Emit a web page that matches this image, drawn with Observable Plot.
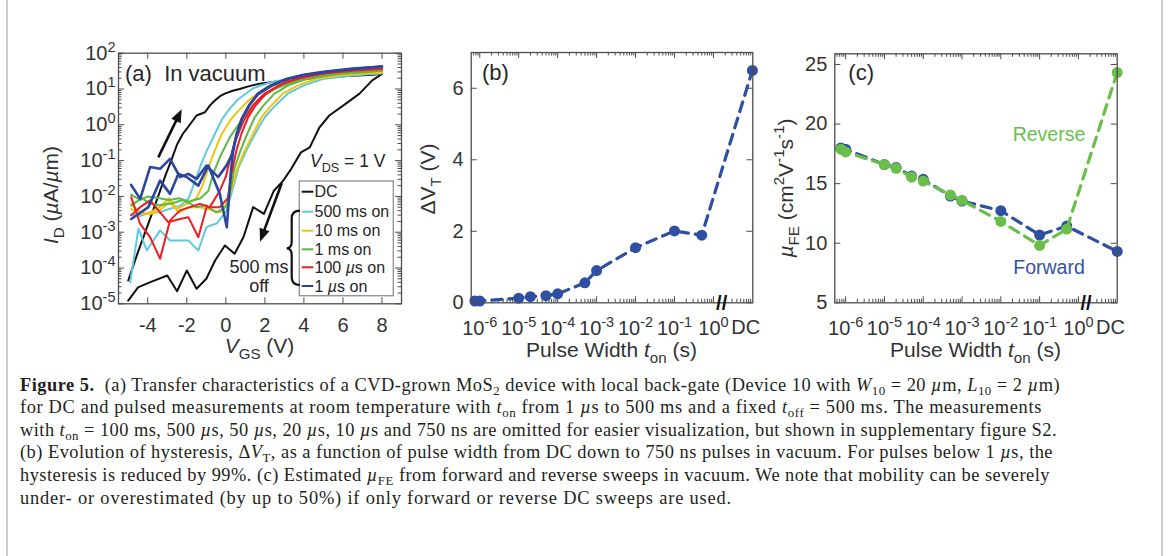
<!DOCTYPE html>
<html>
<head>
<meta charset="utf-8">
<script src="https://cdn.jsdelivr.net/npm/d3@7"></script>
<script src="https://cdn.jsdelivr.net/npm/@observablehq/plot@0.6"></script>
<style>
html,body{margin:0;padding:0;background:#fff;}
#wrap{position:relative;width:1168px;height:556px;overflow:hidden;background:#fff;}
.vbar{position:absolute;top:0;height:556px;width:2px;background:#cdcdcd;}
.panel{position:absolute;left:0;top:0;}
.panel svg{display:block;overflow:visible;}
#cap{position:absolute;left:20px;top:373.7px;font-family:"Liberation Serif","Times New Roman",Times,serif;font-size:18px;line-height:22.6px;color:#231f20;white-space:nowrap;}
#cap sub{font-size:0.7em;vertical-align:-0.28em;line-height:0;}
#cap .ln span{display:inline-block;}
</style>
</head>
<body>
<div id="wrap">
  <div class="vbar" style="left:6px"></div>
  <div class="vbar" style="left:1161px"></div>
  <div id="pa" class="panel"></div>
  <div id="pb" class="panel"></div>
  <div id="pc" class="panel"></div>
  <div id="cap">
    <div class="ln"><span><b>Figure 5.</b>&nbsp; (a) Transfer characteristics of a CVD-grown MoS<sub>2</sub> device with local back-gate (Device 10 with <i>W</i><sub>10</sub> = 20 <i>µ</i>m, <i>L</i><sub>10</sub> = 2 <i>µ</i>m)</span></div>
    <div class="ln"><span>for DC and pulsed measurements at room temperature with <i>t</i><sub>on</sub> from 1 <i>µ</i>s to 500 ms and a fixed <i>t</i><sub>off</sub> = 500 ms. The measurements</span></div>
    <div class="ln"><span>with <i>t</i><sub>on</sub> = 100 ms, 500 <i>µ</i>s, 50 <i>µ</i>s, 20 <i>µ</i>s, 10 <i>µ</i>s and 750 ns are omitted for easier visualization, but shown in supplementary figure S2.</span></div>
    <div class="ln"><span>(b) Evolution of hysteresis, Δ<i>V</i><sub>T</sub>, as a function of pulse width from DC down to 750 ns pulses in vacuum. For pulses below 1 <i>µ</i>s, the</span></div>
    <div class="ln"><span>hysteresis is reduced by 99%. (c) Estimated <i>µ</i><sub>FE</sub> from forward and reverse sweeps in vacuum. We note that mobility can be severely</span></div>
    <div class="ln"><span>under- or overestimated (by up to 50%) if only forward or reverse DC sweeps are used.</span></div>
  </div>
</div>
<script>
// ================= DATA =================
// Panel (a): each sweep as [V_GS (V), log10 I_D (µA/µm)]
const dcFwd = [[-5,-4.35],[-4.5,-3.55],[-4,-2.8],[-3.5,-2.05],[-3.1,-1.42],[-2.8,-1.0],[-2.5,-0.55],[-2.2,-0.25],[-2.0,-0.11],[-1.5,0.26],[-1.07,0.35],[-0.8,0.55],[-0.56,0.68],[-0.3,0.8],[-0.05,0.87],[0.35,0.95],[0.71,1.0],[1.2,1.08],[1.74,1.15],[2.59,1.21],[3.5,1.26],[4.5,1.3],[5.5,1.34],[6.5,1.37],[7.3,1.39],[8,1.42]];
const dcRev = [[-5,-4.91],[-4.5,-4.54],[-3.9,-4.40],[-3.0,-4.21],[-2.5,-4.65],[-2.0,-4.07],[-1.5,-4.58],[-1.0,-4.30],[-0.55,-3.79],[-0.05,-3.37],[0.45,-3.60],[0.9,-3.14],[1.4,-2.30],[1.95,-2.49],[2.45,-1.85],[2.85,-1.62],[3.0,-1.51],[3.35,-1.23],[3.85,-0.77],[4.3,-0.63],[4.8,-0.07],[5.3,0.26],[6.15,0.59],[6.85,0.87],[7.5,1.24],[8,1.42]];
const ms500Fwd = [[-4.85,-2.5],[-4.4,-2.55],[-3.9,-2.45],[-3.4,-2.45],[-2.9,-2.35],[-2.3,-2.25],[-1.9,-2.05],[-1.6,-1.6],[-1.3,-1.15],[-1.0,-0.75],[-0.6,-0.3],[-0.2,0.15],[0.2,0.45],[0.6,0.7],[1.4,1.02],[2.25,1.18],[3,1.26],[4,1.32],[5,1.36],[6,1.39],[7,1.42],[8,1.44]];
const ms500Rev = [[-4.9,-4.4],[-4.48,-2.9],[-4.05,-3.51],[-3.37,-2.95],[-2.86,-3.23],[-1.92,-3.23],[-1.41,-3.51],[-0.99,-2.86],[-0.45,-2.75],[0.03,-2.4],[0.35,-1.8],[0.65,-1.2],[1.05,-0.72],[1.5,-0.25],[1.99,0.21],[2.5,0.52],[3.17,0.87],[4.0,1.1],[4.96,1.28],[6.5,1.38],[8,1.44]];
const ms10Fwd = [[-4.85,-2.35],[-4.4,-2.5],[-3.9,-2.45],[-3.4,-2.3],[-2.9,-2.05],[-2.5,-2.35],[-2.0,-2.2],[-1.5,-2.05],[-1.2,-1.7],[-0.95,-1.3],[-0.7,-0.9],[-0.25,-0.3],[0.25,0.15],[0.75,0.45],[1.2,0.7],[1.8,0.93],[2.5,1.1],[3.3,1.22],[4.5,1.33],[6,1.41],[8,1.47]];
const ms10Rev = [[-4.85,-2.2],[-4.4,-2.45],[-3.9,-2.5],[-3.4,-2.4],[-2.9,-2.15],[-2.4,-2.45],[-1.9,-2.3],[-1.4,-2.3],[-0.9,-2.35],[-0.3,-2.45],[0.05,-2.2],[0.3,-1.8],[0.6,-1.2],[0.97,-0.72],[1.4,-0.25],[1.82,0.21],[2.3,0.52],[2.92,0.87],[3.7,1.1],[4.6,1.28],[6,1.39],[8,1.47]];
const ms1Fwd = [[-4.85,-1.95],[-4.4,-2.1],[-4.0,-2.0],[-3.4,-2.05],[-2.9,-2.1],[-2.4,-2.05],[-1.9,-2.15],[-1.3,-2.05],[-0.9,-1.85],[-0.6,-1.3],[-0.3,-0.9],[0.2,-0.35],[0.7,0.05],[1.2,0.42],[1.8,0.76],[2.5,1.0],[3.3,1.17],[4.5,1.32],[6,1.44],[8,1.52]];
const ms1Rev = [[-4.85,-2.25],[-4.3,-2.05],[-3.9,-2.2],[-3.4,-2.25],[-2.8,-2.2],[-2.2,-2.1],[-1.5,-2.3],[-1.0,-2.25],[-0.5,-2.45],[0.0,-2.3],[0.25,-1.8],[0.45,-1.2],[0.75,-0.72],[1.1,-0.25],[1.48,0.21],[1.9,0.52],[2.49,0.87],[3.2,1.1],[4.1,1.28],[5.5,1.41],[8,1.51]];
const us100Fwd = [[-4.85,-2.02],[-4.39,-2.77],[-3.88,-3.14],[-3.37,-3.74],[-2.86,-2.67],[-2.35,-2.39],[-1.84,-2.3],[-1.33,-2.21],[-0.82,-2.3],[-0.31,-1.84],[0.0,-1.45],[0.2,-1.0],[0.45,-0.5],[0.9,0.1],[1.4,0.55],[2.0,0.88],[3.0,1.17],[4.2,1.36],[6,1.5],[8,1.57]];
const us100Rev = [[-4.85,-2.53],[-4.39,-2.3],[-3.88,-2.11],[-2.95,-2.72],[-2.35,-2.63],[-1.92,-2.58],[-1.41,-3.14],[-0.99,-2.3],[-0.31,-2.3],[0.1,-2.05],[0.3,-1.35],[0.54,-0.72],[0.8,-0.25],[1.14,0.21],[1.5,0.52],[2.06,0.87],[2.8,1.12],[3.6,1.28],[5,1.43],[6.5,1.51],[8,1.56]];
const us1Fwd = [[-4.85,-1.68],[-4.39,-2.07],[-3.88,-1.18],[-3.37,-1.23],[-2.86,-0.95],[-2.35,-1.46],[-1.92,-1.37],[-1.5,-1.51],[-0.99,-1.14],[-0.39,-1.46],[0.03,-1.14],[0.3,-0.85],[0.5,-0.4],[0.8,0.15],[1.2,0.55],[1.64,0.85],[2.3,1.08],[3.1,1.27],[4,1.39],[5,1.47],[6.5,1.56],[8,1.63]];
const us1Rev = [[-4.85,-2.63],[-3.97,-2.3],[-3.37,-1.56],[-2.86,-1.93],[-2.43,-1.37],[-2.01,-1.46],[-1.41,-1.7],[-0.9,-1.14],[-0.31,-1.93],[0.05,-2.86],[0.15,-2.1],[0.25,-1.35],[0.37,-0.75],[0.55,-0.25],[0.85,0.2],[1.2,0.55],[1.64,0.87],[2.3,1.1],[3.1,1.28],[4,1.4],[5,1.48],[6.5,1.57],[8,1.63]];

const legendLabels = ["DC", "500 ms on", "10 ms on", "1 ms on", "100 µs on", "1 µs on"];
const legendColors = ["#111111", "#5fc9df", "#f1c40f", "#5cb947", "#ee1c24", "#2c46a0"];
const sweepsA = [
  {pts: dcFwd, c: 0}, {pts: dcRev, c: 0},
  {pts: ms500Fwd, c: 1}, {pts: ms500Rev, c: 1},
  {pts: ms10Fwd, c: 2}, {pts: ms10Rev, c: 2},
  {pts: ms1Fwd, c: 3}, {pts: ms1Rev, c: 3},
  {pts: us100Fwd, c: 4}, {pts: us100Rev, c: 4},
  {pts: us1Fwd, c: 5}, {pts: us1Rev, c: 5}
];

// Panels (b), (c): pulse widths (s); DC is drawn at the position right of the axis break (10)
const pulseLabels = ["750 ns","1 µs","10 µs","20 µs","50 µs","100 µs","500 µs","1 ms","10 ms","100 ms","500 ms","DC"];
const pulseWidth = [7.5e-7, 1e-6, 1e-5, 2e-5, 5e-5, 1e-4, 5e-4, 1e-3, 1e-2, 1e-1, 5e-1, 10];
const deltaVT   = [0.05, 0.05, 0.13, 0.17, 0.20, 0.25, 0.56, 0.90, 1.54, 2.01, 1.89, 6.50];
const muForward = [18.0, 17.89, 16.6, 16.35, 15.64, 15.36, 13.96, 13.54, 12.73, 10.69, 11.44, 9.31];
const muReverse = [17.89, 17.66, 16.6, 16.29, 15.56, 15.22, 14.05, 13.6, 11.83, 9.82, 11.19, 24.33];

// Tick values / labels
const xTicksA = [-4, -2, 0, 2, 4, 6, 8];
const yTicksA = [1e-5, 1e-4, 1e-3, 1e-2, 1e-1, 1e0, 1e1, 1e2];
const decadeTicks = [1e-6, 1e-5, 1e-4, 1e-3, 1e-2, 1e-1, 1e0];
const dcTick = 10 ** 0.84;
const dcTickLabel = "DC";
const yTicksB = [0, 2, 4, 6];
const yTicksC = [5, 10, 15, 20, 25];

// ================= STYLE / HELPERS =================
const W = 1168, H = 370;
const FONT = '"Liberation Sans", Arial, Helvetica, sans-serif';
const TXT = "#333333", AX = "#4d4d4d";
const MAJ = 6, MIN = 3.5;
const BLUE = "#2f4fa3", GREEN = "#69bf4a";
const baseStyle = {background: "transparent", fontFamily: FONT, fontSize: "20px", color: TXT, overflow: "visible"};
const yMinorA = [];
for (let e = -5; e <= 1; e++) for (let k = 2; k <= 9; k++) yMinorA.push(k * 10 ** e);
const xMinorLog = [];
for (let e = -7; e <= 0; e++) for (let k = 2; k <= 9; k++) xMinorLog.push(k * 10 ** e);
const logFmt = d => "10^" + Math.round(Math.log10(d));

function rich(parent, x, y, parts, o = {}) {
  const fs = o.fs || 20;
  const t = parent.append("text")
    .attr("transform", `translate(${x},${y})` + (o.rotate ? ` rotate(${o.rotate})` : ""))
    .attr("text-anchor", o.anchor || "start")
    .attr("font-family", o.family || FONT).attr("font-size", fs).attr("fill", o.fill || TXT);
  if (o.weight) t.attr("font-weight", o.weight);
  let shift = 0;
  for (const p of (typeof parts === "string" ? [{t: parts}] : parts)) {
    const ts = t.append("tspan").text(p.t);
    let target = 0, size = fs;
    if (p.sub) { target = 0.28 * fs; size = 0.72 * fs; }
    if (p.sup) { target = -0.42 * fs; size = 0.72 * fs; }
    if (target !== shift) { ts.attr("dy", target - shift); shift = target; }
    if (size !== fs) ts.attr("font-size", size);
    if (p.i) ts.attr("font-style", "italic");
  }
  return t;
}
function supTicks(svg, which) {
  d3.select(svg).selectAll(`g[aria-label="${which}-axis tick label"] text`).each(function () {
    const el = d3.select(this), m = /^10\^(.+)$/.exec(el.text());
    if (!m) return;
    el.text(null);
    el.append("tspan").text("10");
    el.append("tspan").attr("dy", -8).attr("font-size", 14.5).text(m[1]);
  });
}
function arrow(g, x0, y0, x1, y1, head = 13, half = 5.2) {
  const dx = x1 - x0, dy = y1 - y0, L = Math.hypot(dx, dy), ux = dx / L, uy = dy / L;
  const bx = x1 - ux * head, by = y1 - uy * head;
  g.append("line").attr("x1", x0).attr("y1", y0).attr("x2", bx + ux * 2).attr("y2", by + uy * 2)
    .attr("stroke", "#111").attr("stroke-width", 2.6);
  g.append("path").attr("d", `M${x1},${y1}L${bx - uy * half},${by + ux * half}L${bx + uy * half},${by - ux * half}Z`).attr("fill", "#111");
}

// ================= PANEL (a) =================
const A = {ml: 118, mr: 767, mt: 52.7, mb: 66.7};
const FH_A = H - A.mt - A.mb, FW_A = W - A.ml - A.mr;
const pa = Plot.plot({
  width: W, height: H, marginLeft: A.ml, marginRight: A.mr, marginTop: A.mt, marginBottom: A.mb,
  style: baseStyle,
  x: {domain: [-5.5, 9], label: null},
  y: {type: "log", domain: [1e-5, 1e2], label: null},
  marks: [
    Plot.axisX({ticks: xTicksA, tickSize: 0, tickPadding: 14, tickFormat: d => `${d}`, label: null}),
    Plot.axisY({ticks: yTicksA, tickSize: 0, tickPadding: 3, tickFormat: logFmt, label: null}),
    Plot.tickX(xTicksA, {x: d => d, insetTop: FH_A - MAJ, stroke: AX}),
    Plot.tickX(xTicksA, {x: d => d, insetBottom: FH_A - MAJ, stroke: AX}),
    Plot.tickY(yTicksA, {y: d => d, insetRight: FW_A - MAJ, stroke: AX}),
    Plot.tickY(yTicksA, {y: d => d, insetLeft: FW_A - MAJ, stroke: AX}),
    Plot.tickY(yMinorA, {y: d => d, insetRight: FW_A - MIN, stroke: AX}),
    Plot.tickY(yMinorA, {y: d => d, insetLeft: FW_A - MIN, stroke: AX}),
    ...sweepsA.map(s => Plot.line(s.pts, {x: d => d[0], y: d => 10 ** d[1], stroke: legendColors[s.c], strokeWidth: s.c === 5 ? 2.6 : 2})),
    Plot.frame({stroke: AX, strokeWidth: 1.3})
  ]
});
document.getElementById("pa").appendChild(pa);
supTicks(pa, "y");
{
  const g = d3.select(pa).append("g");
  const sx = v => pa.scale("x").apply(v), sy = l => pa.scale("y").apply(10 ** l);
  rich(g, sx(-5.14), sy(1.223), "(a)  In vacuum", {fs: 22, fill: "#262626"});
  rich(g, sx(4.338), sy(-1.193), [{t: "V", i: true}, {t: "DS", sub: true}, {t: " = 1 V"}], {fs: 17.5, fill: "#262626"});
  arrow(g, sx(-3.435), sy(-0.922), sx(-2.236), sy(0.419));
  arrow(g, sx(2.888), sy(-1.648), sx(1.776), sy(-3.279));
  // legend box
  const lx0 = sx(3.789), lx1 = sx(8.606), ly0 = sy(-1.584), ly1 = sy(-4.788);
  g.append("rect").attr("x", lx0).attr("y", ly0).attr("width", lx1 - lx0).attr("height", ly1 - ly0)
    .attr("fill", "#fff").attr("stroke", "#8f8f8f").attr("stroke-width", 1.3);
  const rowsL = [-1.883, -2.441, -2.972, -3.492, -3.994, -4.517];
  legendLabels.forEach((lab, i) => {
    const yy = sy(rowsL[i]);
    g.append("line").attr("x1", sx(3.912)).attr("x2", sx(4.507)).attr("y1", yy).attr("y2", yy)
      .attr("stroke", legendColors[i]).attr("stroke-width", 2);
    const parts = lab.includes("µ") ? lab.split(/(µ)/).filter(s => s).map(s => s === "µ" ? {t: s, i: true} : {t: s}) : lab;
    rich(g, sx(4.568), yy + 5.6, parts, {fs: 16, fill: "#262626"});
  });
  // brace
  const bx = sx(3.825), sxs = sx(3.400), tx = sx(3.144), yt = sy(-2.413), ym = sy(-3.464), yb = sy(-4.489);
  g.append("path").attr("d",
    `M${bx},${yt} Q${sxs},${yt} ${sxs},${yt + 8} L${sxs},${ym - 7} Q${sxs},${ym} ${tx},${ym} Q${sxs},${ym} ${sxs},${ym + 7} L${sxs},${yb - 8} Q${sxs},${yb} ${bx},${yb}`)
    .attr("fill", "none").attr("stroke", "#111").attr("stroke-width", 2.2);
  rich(g, sx(1.725), sy(-4.154), "500 ms", {fs: 18, anchor: "middle", fill: "#262626"});
  rich(g, sx(1.725), sy(-4.676), "off", {fs: 18, anchor: "middle", fill: "#262626"});
  // axis titles
  rich(g, (A.ml + W - A.mr) / 2, 353, [{t: "V", i: true}, {t: "GS", sub: true}, {t: " (V)"}], {fs: 21, anchor: "middle"});
  rich(g, 58, 195, [{t: "I", i: true}, {t: "D", sub: true}, {t: " ("}, {t: "µ", i: true}, {t: "A/"}, {t: "µ", i: true}, {t: "m)"}], {fs: 21, anchor: "middle", rotate: -90});
}

// ================= PANELS (b) and (c) =================
function pulsePanel(o) {
  const FH = H - o.mt - o.mb, FW = W - o.ml - o.mr;
  const minor = xMinorLog.filter(v => v >= o.xd[0] && v <= o.xd[1]);
  const p = Plot.plot({
    width: W, height: H, marginLeft: o.ml, marginRight: o.mr, marginTop: o.mt, marginBottom: o.mb,
    style: baseStyle,
    x: {type: "log", domain: o.xd, label: null},
    y: {domain: o.yd, label: null},
    marks: [
      Plot.axisX({ticks: decadeTicks, tickSize: 0, tickPadding: 17.5, tickFormat: logFmt, label: null}),
      Plot.axisY({ticks: o.yTicks, tickSize: 0, tickPadding: 7.5, tickFormat: d => `${d}`, label: null}),
      Plot.tickX(decadeTicks, {x: d => d, insetTop: FH - MAJ, stroke: AX}),
      Plot.tickX(decadeTicks, {x: d => d, insetBottom: FH - MAJ, stroke: AX}),
      Plot.tickX(minor, {x: d => d, insetTop: FH - MIN, stroke: AX}),
      Plot.tickX(minor, {x: d => d, insetBottom: FH - MIN, stroke: AX}),
      Plot.tickY(o.yTicks, {y: d => d, insetRight: FW - MAJ, stroke: AX}),
      Plot.tickY(o.yTicks, {y: d => d, insetLeft: FW - MAJ, stroke: AX}),
      ...o.series.flatMap(s => {
        const rows = pulseWidth.map((w, i) => ({w, v: s.values[i], label: pulseLabels[i]}));
        return [
          Plot.line(rows, {x: "w", y: "v", stroke: s.color, strokeWidth: 3.2, strokeDasharray: "10,7"}),
          Plot.dot(rows, {x: "w", y: "v", r: 5.5, fill: s.color, stroke: "none"})
        ];
      }),
      Plot.frame({stroke: AX, strokeWidth: 1.3})
    ]
  });
  document.getElementById(o.id).appendChild(p);
  supTicks(p, "x");
  const g = d3.select(p).append("g");
  const sx = v => p.scale("x").apply(v), sy = v => p.scale("y").apply(v);
  // "DC" tick label, on the same baseline as the decade labels
  rich(g, sx(dcTick), H - o.mb + 17.5 + 14.2, dcTickLabel, {fs: 20, anchor: "middle"});
  rich(g, sx(10 ** o.tag[0]), sy(o.tag[1]), o.tagText, {fs: 22, fill: "#262626"});
  rich(g, sx(10 ** o.brk[0]), sy(o.brk[1]), "//", {fs: 20, anchor: "middle", weight: "bold", fill: "#111"});
  rich(g, (o.ml + W - o.mr) / 2, 357, [{t: "Pulse Width "}, {t: "t", i: true}, {t: "on", sub: true}, {t: " (s)"}], {fs: 21, anchor: "middle"});
  rich(g, o.yl[0], o.yl[1], o.ylabel, {fs: 21, anchor: "middle", rotate: -90});
  return {p, g, sx, sy};
}

pulsePanel({
  id: "pb", ml: 470.7, mr: 415.7, mt: 52, mb: 67.7,
  xd: [10 ** -6.22, 10 ** 1.01], yd: [0, 7], yTicks: yTicksB,
  series: [{values: deltaVT, color: BLUE}],
  tag: [-5.93, 6.203], tagText: "(b)", brk: [0.224, -0.215],
  yl: [435, 179], ylabel: [{t: "ΔV"}, {t: "T", sub: true}, {t: " (V)"}]
});

const pcObj = pulsePanel({
  id: "pc", ml: 834.3, mr: 51.3, mt: 53.3, mb: 67.7,
  xd: [10 ** -6.28, 10 ** 1.0], yd: [5, 25.9], yTicks: yTicksC,
  series: [{values: muForward, color: BLUE}, {values: muReverse, color: GREEN}],
  tag: [-5.919, 23.617], tagText: "(c)", brk: [0.209, 4.354],
  yl: [793, 188],
  ylabel: [{t: "µ", i: true}, {t: "FE", sub: true}, {t: " (cm"}, {t: "2", sup: true}, {t: "V"}, {t: "-1", sup: true}, {t: "s"}, {t: "-1", sup: true}, {t: ")"}]
});
rich(pcObj.g, pcObj.sx(10 ** -0.745), pcObj.sy(18.564), "Reverse", {fs: 19.5, anchor: "middle", fill: GREEN});
rich(pcObj.g, pcObj.sx(10 ** -0.745), pcObj.sy(7.375), "Forward", {fs: 19.5, anchor: "middle", fill: "#3353a8"});

// ================= CAPTION FIT (match the reference line lengths) =================
(function fitCaption() {
  const cap = document.getElementById("cap");
  cap.style.fontSize = "18.4px";
  const spans = [...cap.querySelectorAll(".ln span")];
  const ends = [1060, 1042, 1057, 1053, 1050, 732];
  spans.forEach((s, i) => {
    const w = s.getBoundingClientRect().width;
    const n = s.textContent.length;
    const ls = Math.max(-0.5, Math.min(1.2, (ends[i] - 20 - w) / n));
    s.style.letterSpacing = ls + "px";
  });
})();
</script>
</body>
</html>
